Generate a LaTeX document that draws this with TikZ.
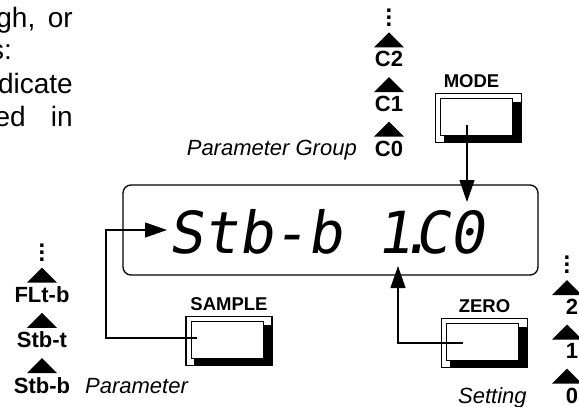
\documentclass[tikz,border=0pt]{standalone}
\usepackage{fontspec}
\setmainfont{Liberation Sans}
\newfontfamily\segfont[FakeSlant=0.16]{DejaVu Sans Mono}
\usetikzlibrary{arrows.meta,positioning,shapes.geometric}

\begin{document}
\begin{tikzpicture}[x=1pt,y=-1pt,
lbl/.style={font=\fontsize{22}{22}\selectfont\bfseries,inner sep=0pt,outer sep=0pt},
grp/.style={font=\fontsize{22}{22}\selectfont\itshape,inner sep=0pt},
keylbl/.style={font=\fontsize{18.5}{18.5}\selectfont\bfseries,inner sep=0pt},
body/.style={font=\fontsize{28}{28}\selectfont,inner sep=0pt,anchor=base east},
tri/.style={isosceles triangle,isosceles triangle apex angle=90,shape border rotate=90,fill,inner sep=0pt,outer sep=0pt,minimum size=15pt},
more/.style={font=\fontsize{24}{7}\selectfont\bfseries,align=center,inner sep=0pt},
seg/.style={font=\segfont\fontsize{58}{58}\selectfont,inner sep=0pt,anchor=base west},
btn/.style={draw,line width=1.4pt,minimum width=86pt,minimum height=49pt,inner sep=0pt,
  path picture={
    \fill ([xshift=8pt,yshift=-8pt]path picture bounding box.north west) rectangle (path picture bounding box.south east);
    \filldraw[fill=white,line width=0.7pt] ([xshift=5pt,yshift=-5pt]path picture bounding box.north west) rectangle ([xshift=-9pt,yshift=7pt]path picture bounding box.south east);
  }},
arr/.style={-{Triangle[length=22pt,width=15pt]},line width=1.2pt}
]
\useasboundingbox (0,0) rectangle (579,407);

% text cut off at the left
\node[body] (t1) at (73,27) {gh,\hspace{0.45em}or};
\node[body] (t2) at (12,59) {s:};
\node[body] (t3) at (73,93) {dicate};
\node[body] (t4) at (73,126) {ed\hspace{0.9em}in};

% display
\node[draw,rounded corners=8pt,line width=1.3pt,minimum width=415pt,minimum height=90pt] (disp) at (330.5,230) {};
\node[seg] (pname) at (168,253) {Stb-b};
\node[seg] (pval) at (376,253) {1\kern-.22em.\kern-.33em C0};
\coordinate (ptip) at (167,230);
\coordinate (mtip) at (467,202);
\coordinate (stip) at (398,266);

% keys
\node[btn] (mode) at (478.5,118) {};
\node[keylbl,above=5pt of mode,xshift=-7pt] (modelbl) {MODE};
\node[btn] (sample) at (229,341) {};
\node[keylbl,above=5pt of sample] (samplelbl) {SAMPLE};
\node[btn] (zero) at (484.5,343) {};
\node[keylbl,above=5pt of zero] (zerolbl) {ZERO};

\draw[arr] ([xshift=-32pt,yshift=3pt]sample.center) -| ([xshift=-61pt]ptip) -- (ptip);
\draw[arr] ([xshift=-22pt]zero.center) -| (stip);
\draw[arr] ([yshift=-7pt]mtip |- mode.center) -- (mtip);

% parameter group C0, C1, C2
\node[lbl,anchor=base] (c0) at (389,156) {C0};
\node[tri,above=4pt of c0] (upc0) {};
\node[lbl,above=10pt of upc0] (c1) {C1};
\node[tri,above=4pt of c1] (upc1) {};
\node[lbl,above=10pt of upc1] (c2) {C2};
\node[tri,above=4pt of c2] (upc2) {};
\node[more,above=6pt of upc2] (cmore) {.\\.\\.};
\node[grp,anchor=base east] (grplbl) at (357,155) {Parameter Group};

% parameters
\node[lbl,anchor=base] (stbb) at (42,393) {Stb-b};
\node[tri,above=4pt of stbb] (upstbb) {};
\node[lbl,above=10pt of upstbb] (stbt) {Stb-t};
\node[tri,above=4pt of stbt] (upstbt) {};
\node[lbl,above=10pt of upstbt] (fltb) {FLt-b};
\node[tri,above=4pt of fltb] (upfltb) {};
\node[more,above=6pt of upfltb] (pmore) {.\\.\\.};
\node[grp,anchor=base west] (parlbl) at (85,393) {Parameter};

% settings
\node[lbl,anchor=base] (s0) at (572,403) {0};
\node[tri,above=4pt of s0,xshift=-5pt] (ups0) {};
\node[lbl,above=10pt of ups0,xshift=5pt] (s1) {1};
\node[tri,above=4pt of s1,xshift=-5pt] (ups1) {};
\node[lbl,above=10pt of ups1,xshift=5pt] (s2) {2};
\node[tri,above=4pt of s2,xshift=-5pt] (ups2) {};
\node[more,above=6pt of ups2] (smore) {.\\.\\.};
\node[grp,anchor=base west] (setlbl) at (458,403) {Setting};
\end{tikzpicture}
\end{document}
